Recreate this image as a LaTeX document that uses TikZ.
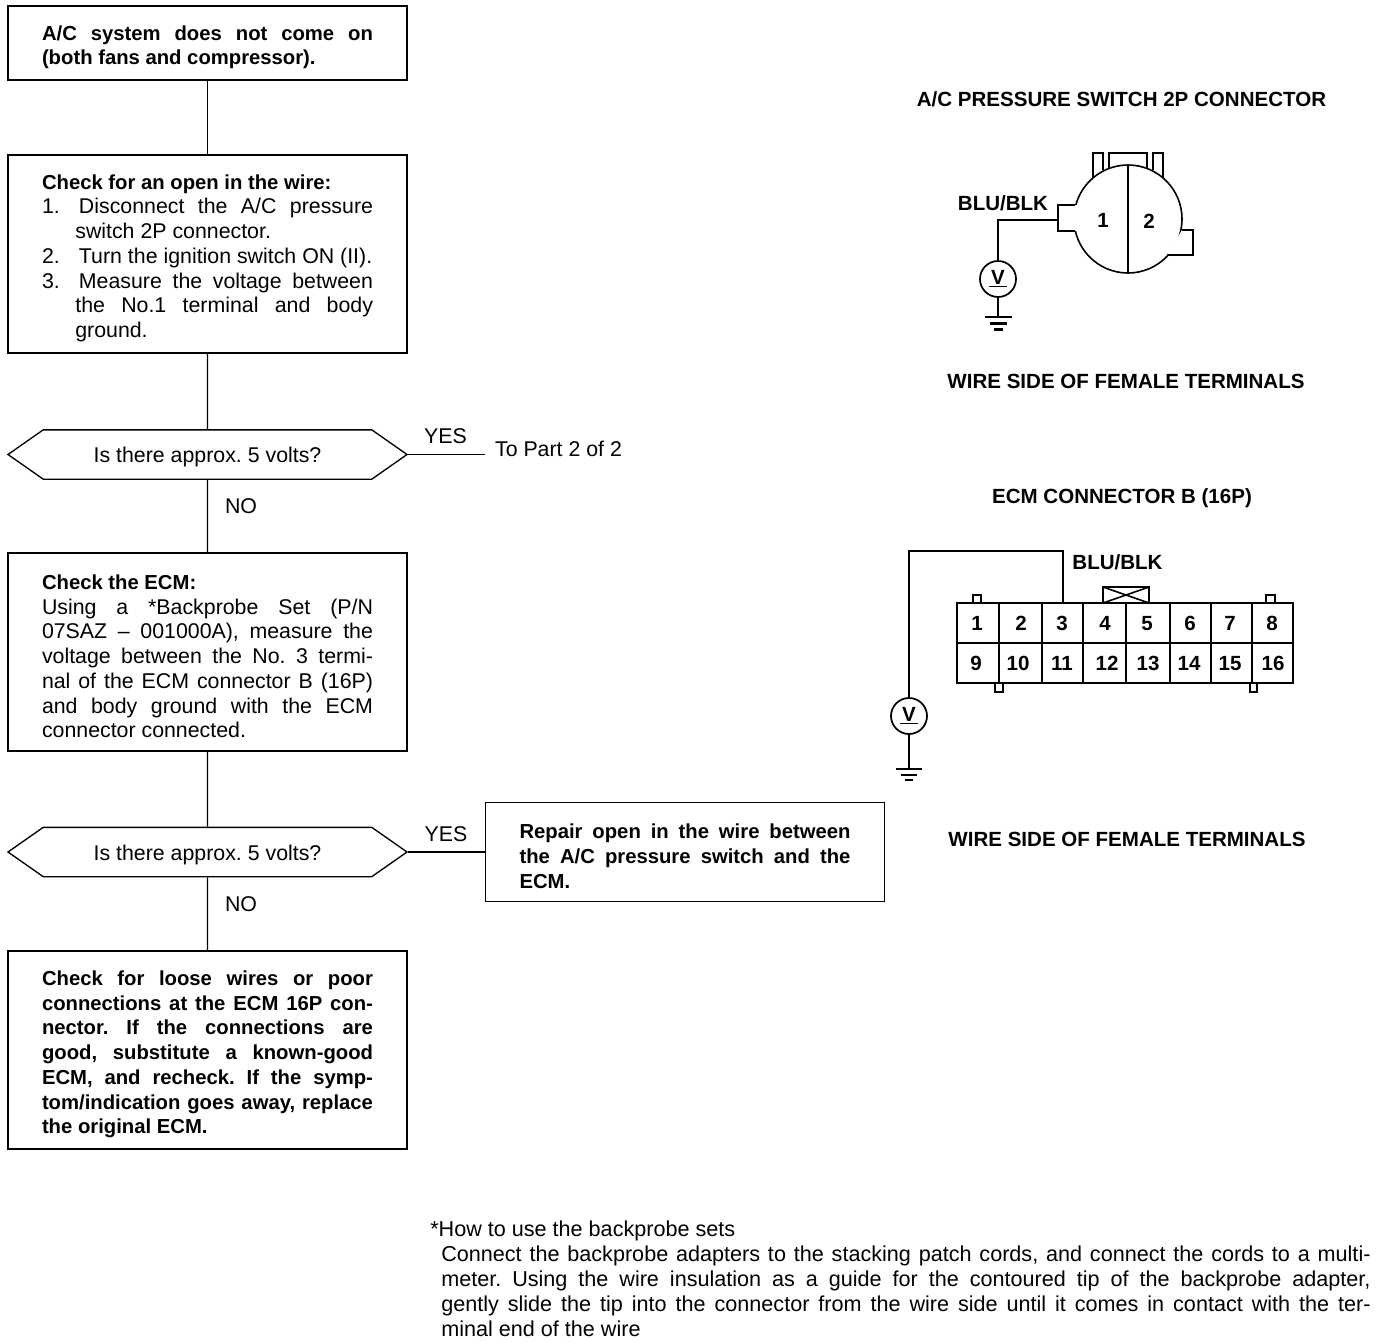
\documentclass[tikz,border=0pt]{standalone}
\usepackage{fontspec}
\setmainfont{Liberation Sans}
\usetikzlibrary{positioning,shapes.symbols}
\hbadness=10000
\hfuzz=20pt
\frenchspacing
\newcommand{\natsp}{\spaceskip=0pt\relax}
\newcommand{\bodyfont}{\fontsize{16pt}{18.55pt}\selectfont}
\newcommand{\boldfont}{\fontsize{15.2pt}{18.55pt}\selectfont\bfseries\spaceskip=.2em plus 1em\relax}
\newcommand{\notefont}{\fontsize{16.2pt}{18.55pt}\selectfont\spaceskip=.12em plus 1em\relax}
\newcommand{\titlefont}{\fontsize{15.4pt}{16pt}\selectfont\bfseries}
\tikzset{
  % flow chart
  stepbox/.style={rectangle,draw=black,fill=white,line width=1pt,minimum width=299.25pt,
                  inner xsep=25pt,inner ysep=0pt,text width=248.25pt,align=justify,font=\bodyfont,
                  execute at begin node=\rule{0pt}{17.5pt}},
  askhex/.style={signal,signal to=east and west,signal pointer angle=70,draw=black,
                 line width=1pt,minimum width=299.25pt,minimum height=37pt,inner sep=0pt,font=\bodyfont},
  flow/.style={draw=black,line width=1pt},
  ans/.style={font=\bodyfont,inner sep=0pt},
  % connector views
  heading/.style={font=\titlefont,inner sep=0pt},
  pinno/.style={font=\titlefont,inner sep=0pt,text height=10.5pt,text depth=0pt},
  wire/.style={draw=black,line width=1.5pt},
  shell/.style={draw=black,line width=1.2pt},
  cell/.style={draw=black,line width=1.5pt},
  meter/.style={circle,draw=black,fill=white,line width=1.3pt,inner sep=0pt,minimum size=27pt},
}
\begin{document}
\begin{tikzpicture}[x=0.75pt,y=-0.75pt]
\useasboundingbox (0,0) rectangle (1376,1342);
  % flow chart
  \node[stepbox,minimum height=55.5pt,font=\boldfont] (start) at (207.5,43) {A/C system does not come on\linebreak \natsp(both fans and compressor).\par};
  \node[stepbox,minimum height=148.5pt] (openchk) at (207.5,254) {{\boldfont\natsp Check for an open in the wire:}\\
    1.\hspace{.9em}Disconnect the A/C pressure\linebreak
    \hspace*{25pt}switch 2P connector.\\
    2.\hspace{.9em}Turn the ignition switch ON (II).\\
    3.\hspace{.9em}Measure the voltage between\linebreak
    \hspace*{25pt}the No.1 terminal and body\linebreak
    \hspace*{25pt}ground.\par};
  \node[askhex] (askone) at (207.5,454.5) {\raisebox{-6pt}[0pt][0pt]{Is there approx. 5 volts?}};
  \node[stepbox,minimum height=148.5pt] (ecmchk) at (207.5,652) {{\boldfont\natsp Check the ECM:}\\
    Using a *Backprobe Set (P/N\linebreak
    07SAZ -- 001000A), measure the\linebreak
    voltage between the No. 3 termi-\linebreak
    nal of the ECM connector B (16P)\linebreak
    and body ground with the ECM\linebreak
    connector connected.\par};
  \node[askhex] (asktwo) at (207.5,852) {\raisebox{-6pt}[0pt][0pt]{Is there approx. 5 volts?}};
  \node[stepbox,minimum height=148.5pt,font=\boldfont] (loose) at (207.5,1050) {Check for loose wires or poor\linebreak
    connections at the ECM 16P con-\linebreak
    nector. If the connections are\linebreak
    good, substitute a known-good\linebreak
    ECM, and recheck. If the symp-\linebreak
    tom/indication goes away, replace\linebreak
    \natsp the original ECM.\par};
  \node[stepbox,minimum height=74.25pt,font=\boldfont] (repair) at (685,852) {Repair open in the wire between\linebreak
    the A/C pressure switch and the\linebreak
    ECM.\par};
  \coordinate (partend) at (485,454.5);
  \draw[flow] (start) -- (openchk);
  \draw[flow] (openchk) -- (askone);
  \draw[flow] (askone) -- (ecmchk);
  \draw[flow] (ecmchk) -- (asktwo);
  \draw[flow] (asktwo) -- (loose);
  \draw[flow] (askone.east) -- (partend);
  \draw[flow] (asktwo.east) -- (repair);
  \node[ans] (yesone) at (445.5,436) {YES};
  \node[ans] (partlbl) at (558.5,449) {To Part 2 of 2};
  \node[ans] (noone) at (241,506) {NO};
  \node[ans] (yestwo) at (446,834) {YES};
  \node[ans] (notwo) at (241,904) {NO};
  % footnote
  \node[ans,anchor=west,font=\notefont\natsp] (howto) at (430,1231) {*How to use the backprobe sets};
  \node[ans,anchor=north west,text width=697pt,align=justify,font=\notefont] (hownote) at (441,1246) {Connect the backprobe adapters to the stacking patch cords, and connect the cords to a multi-\linebreak
    meter. Using the wire insulation as a guide for the contoured tip of the backprobe adapter,\linebreak
    gently slide the tip into the connector from the wire side until it comes in contact with the ter-\linebreak
    \natsp minal end of the wire\par};
  % pressure switch
  \node[heading] (swcap) at (1121.5,99) {A/C PRESSURE SWITCH 2P CONNECTOR};
  \draw[shell] (1093,178) -- (1093,153) -- (1103,153) -- (1103,170);
  \draw[shell] (1153,170) -- (1153,153) -- (1163,153) -- (1163,178);
  \draw[shell] (1109,168) -- (1109,153) -- (1147,153) -- (1147,168);
  \node[circle,draw=black,fill=white,line width=1.2pt,inner sep=0pt,minimum size=81pt] (swbody) at (1128,219) {};
  \fill[white] (1077,205) rectangle (1058,231);
  \draw[shell] (1075,205) -- (1058,205) -- (1058,231) -- (1075,231);
  \fill[white] (1182,230) -- (1193,230) -- (1193,255) -- (1167,255) -- cycle;
  \draw[shell] (1182,230) -- (1193,230) -- (1193,255) -- (1167,255);
  \draw[line width=1.6pt] (swbody.north) -- (swbody.south);
  \node[pinno] (swone) at (1103,220) {1};
  \node[pinno] (swtwo) at (1149,221) {2};
  \node[pinno] (swblu) at (1003,203) {BLU/BLK};
  \coordinate (swwire) at (1058,220);
  \node[meter] (swv) at (998,279) {\raisebox{1pt}{\titlefont\underline{\hspace{1.5pt}V\hspace{1.5pt}}}};
  \coordinate (swgnd) at (998,317);
  \draw[wire] (swwire) -| (swv);
  \draw[wire] (swv) -- (swgnd);
  \draw[line width=1.6pt] (985,317) -- (1012,317) (990,323.5) -- (1007,323.5) (994,329.5) -- (1003,329.5);
  \node[heading] (swside) at (1126,381) {WIRE SIDE OF FEMALE TERMINALS};
  % ecm connector
  \node[heading] (ecmcap) at (1122,498) {ECM CONNECTOR B (16P)};
  \draw[cell] (957,603) rectangle (1293,683);
  \draw[cell] (957,643) -- (1293,643);
  \foreach \x in {999,1042,1083,1126,1170,1211,1252}
    \draw[cell] (\x,603) -- (\x,683);
  \foreach \x/\n in {977/1,1021/2,1062/3,1105/4,1147/5,1190/6,1230/7,1272/8}
    \node[pinno] (top\n) at (\x,623) {\n};
  \foreach \x/\n in {976/9,1018/10,1062/11,1107/12,1148/13,1189/14,1230/15,1273/16}
    \node[pinno] (low\n) at (\x,663) {\n};
  % keys
  \draw[shell] (973,603) -- (973,595) -- (981,595) -- (981,603);
  \draw[shell] (1266,603) -- (1266,595) -- (1275,595) -- (1275,603);
  \draw[shell] (995,683) -- (995,692) -- (1003,692) -- (1003,683);
  \draw[shell] (1250,683) -- (1250,692) -- (1257,692) -- (1257,683);
  \draw[shell] (1103,603) -- (1103,587) -- (1149,587) -- (1149,603) -- (1103,587) (1149,587) -- (1103,603);
  \node[pinno] (ecmblu) at (1117.5,562) {BLU/BLK};
  \coordinate (ecmpin) at (1063,603);
  \node[meter] (ecmv) at (909,716) {\raisebox{1pt}{\titlefont\underline{\hspace{1.5pt}V\hspace{1.5pt}}}};
  \coordinate (ecmgnd) at (909,769);
  \draw[wire] (ecmpin) |- (909,551) -- (ecmv);
  \draw[wire] (ecmv) -- (ecmgnd);
  \draw[line width=1.6pt] (896,769) -- (922,769) (901,775) -- (917,775) (905,780) -- (913,780);
  \node[heading] (ecmside) at (1127,839) {WIRE SIDE OF FEMALE TERMINALS};
\end{tikzpicture}
\end{document}
